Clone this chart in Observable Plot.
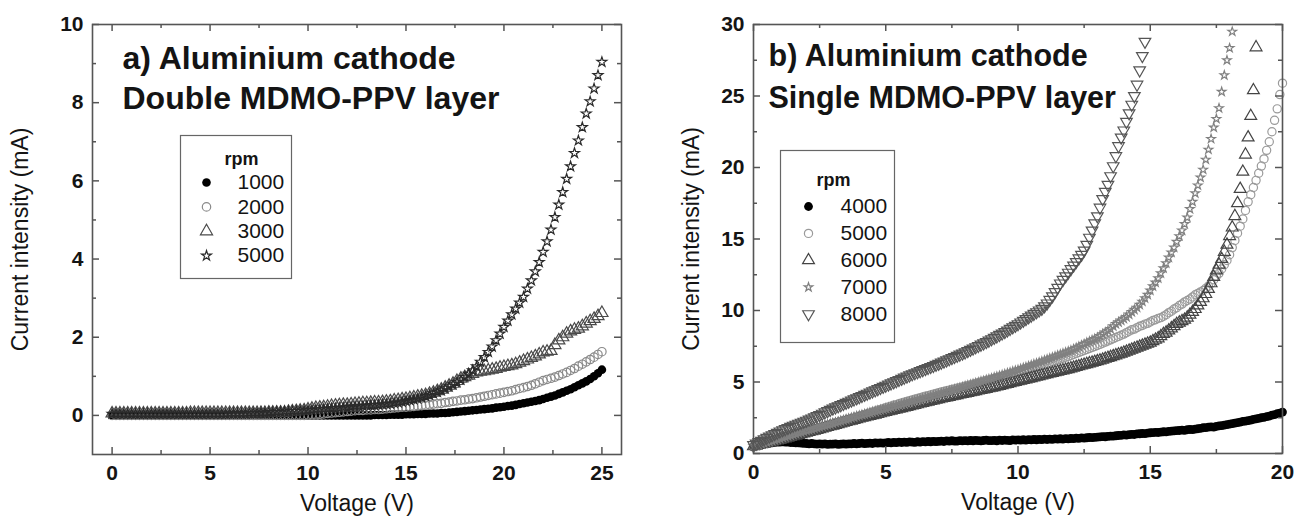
<!DOCTYPE html>
<html><head><meta charset="utf-8">
<script src="https://cdn.jsdelivr.net/npm/d3@7"></script>
<script src="https://cdn.jsdelivr.net/npm/@observablehq/plot@0.6"></script>
<style>
body{margin:0;background:#fff;}
#wrap{display:flex;width:1294px;height:521px;overflow:hidden;}
</style></head><body><div id="wrap"></div>
<script>
// ---------- Panel a: voltage sweep 0..25 V, 0.2 V steps ----------
const voltsA = d3.range(126).map(i => +(i * 0.2).toFixed(1));
const rpmA = ["1000", "2000", "3000", "5000"];
const currentA1000 = [
0,0,0,0,0,0,0,0,0,0, 0,0,0,0,0,0,0,0,0,0, 0,0,0,0,0,0,0,0,0,0,
0,0,0,0,0,0,0,0,0,0, 0,0,0,0,0,0,0,0,0,0, 0,0,0,0,0,0,0,0,0,0, 0,0,0,0,0,
0.00,0.00,0.01,0.01,0.01,0.01,0.02,0.02,0.02,0.02,
0.03,0.03,0.03,0.04,0.04,0.04,0.05,0.05,0.05,0.06,
0.06,0.07,0.08,0.09,0.10,0.11,0.12,0.13,0.14,0.15,
0.16,0.17,0.18,0.20,0.21,0.22,0.24,0.25,0.27,0.29,
0.31,0.33,0.35,0.37,0.39,0.42,0.45,0.48,0.51,0.55,
0.59,0.63,0.67,0.72,0.77,0.82,0.87,0.93,1.00,1.08,
1.17];
const currentA2000 = [
0,0,0,0,0,0,0,0,0,0, 0,0,0,0,0,0,0,0,0,0, 0,0,0,0,0,0,0,0,0,0,
0,0,0,0,0,0,0,0,0,0, 0,0,0,0,0,0,0,0,0,0,
0.01,0.02,0.02,0.03,0.04,0.05,0.06,0.07,0.08,0.09,
0.10,0.11,0.12,0.13,0.13,0.14,0.14,0.15,0.15,0.16,
0.17,0.18,0.19,0.20,0.21,0.21,0.22,0.23,0.24,0.25,
0.26,0.27,0.29,0.30,0.31,0.33,0.34,0.36,0.37,0.39,
0.40,0.42,0.43,0.45,0.47,0.49,0.51,0.53,0.55,0.57,
0.59,0.61,0.63,0.66,0.69,0.71,0.74,0.77,0.81,0.85,
0.89,0.92,0.95,0.98,1.02,1.06,1.10,1.15,1.20,1.26,
1.31,1.37,1.43,1.49,1.56,1.63];
const currentA3000 = [
0.05,0.05,0.05,0.05,0.05,0.05,0.05,0.05,0.05,0.05,
0.05,0.05,0.05,0.05,0.05,0.05,0.05,0.05,0.05,0.05,
0.06,0.06,0.06,0.06,0.06,0.06,0.06,0.06,0.06,0.06,
0.06,0.06,0.06,0.06,0.06,0.06,0.06,0.06,0.06,0.06,
0.07,0.07,0.07,0.07,0.07,
0.09,0.10,0.11,0.12,0.13,
0.15,0.17,0.19,0.20,0.21,0.22,0.24,0.25,0.26,0.27,
0.27,0.28,0.29,0.30,0.31,0.31,0.32,0.33,0.33,0.34,
0.35,0.36,0.38,0.39,0.41,0.42,0.44,0.46,0.48,0.50,
0.52,0.55,0.58,0.62,0.66,0.71,0.76,0.81,0.88,0.94,
0.98,1.02,1.06,1.10,1.12,1.13,1.15,1.17,1.19,1.22,
1.24,1.26,1.28,1.31,1.35,1.39,1.43,1.47,1.51,1.56,
1.61,1.63,1.65,1.80,1.92,2.00,2.09,2.15,2.19,2.22,
2.28,2.35,2.41,2.47,2.54,2.62];
const currentA5000 = [
0.04,0.04,0.04,0.04,0.04,0.04,0.04,0.04,0.04,0.04,
0.04,0.04,0.04,0.04,0.04,0.04,0.04,0.04,0.04,0.04,
0.04,0.04,0.04,0.04,0.04,0.04,0.04,0.04,0.04,0.04,
0.05,0.05,0.05,0.05,0.05,0.06,0.06,0.06,0.07,0.07,
0.08,0.08,0.09,0.09,0.10, 0.10,0.11,0.11,0.12,0.12,
0.13,0.14,0.15,0.15,0.16, 0.17,0.18,0.18,0.19,0.20,
0.21,0.22,0.23,0.23,0.24, 0.25,0.26,0.26,0.27,0.28,
0.29,0.30,0.32,0.33,0.35, 0.37,0.39,0.41,0.43,0.46,
0.49,0.52,0.56,0.60,0.64, 0.69,0.74,0.79,0.85,0.91,
0.98,1.06,1.15,1.25,1.37, 1.49,1.62,1.76,1.92,2.09,
2.26,2.42,2.58,2.73,2.88, 3.03,3.24,3.45,3.68,3.92,
4.18,4.45,4.75,5.07,5.39, 5.71,6.05,6.37,6.71,7.03,
7.37,7.72,8.03,8.36,8.70, 9.04];

// ---------- Panel b: voltage sweep 0..20 V, 0.1 V steps ----------
const voltsB = d3.range(201).map(i => +(i * 0.1).toFixed(1));
const rpmB = ["4000", "5000", "6000", "7000", "8000"];
const currentB4000 = [
0.45,0.52,0.58,0.63,0.66,0.70,0.73,0.75,0.78,0.80,
0.80,0.82,0.79,0.80,0.77,0.76,0.74,0.75,0.72,0.71,
0.70,0.68,0.70,0.67,0.66,0.68,0.65,0.67,0.64,0.66,
0.65,0.67,0.64,0.66,0.68,0.65,0.68,0.67,0.70,0.68,
0.70,0.72,0.69,0.71,0.73,0.70,0.74,0.72,0.75,0.73,
0.75,0.77,0.74,0.78,0.76,0.79,0.77,0.80,0.78,0.81,
0.80,0.78,0.82,0.80,0.83,0.81,0.84,0.82,0.85,0.83,
0.85,0.87,0.84,0.88,0.86,0.89,0.87,0.86,0.90,0.88,
0.90,0.88,0.91,0.89,0.92,0.90,0.88,0.91,0.93,0.90,
0.90,0.92,0.89,0.93,0.91,0.94,0.92,0.90,0.95,0.93,
0.95,0.93,0.96,0.94,0.97,0.95,0.98,0.96,0.99,0.97,
1.00,0.98,1.01,0.99,1.02,1.00,1.03,1.01,1.04,1.02,
1.05,1.04,1.07,1.06,1.09,1.08,1.10,1.12,1.11,1.13,
1.15,1.16,1.18,1.17,1.20,1.22,1.21,1.24,1.26,1.27,
1.30,1.29,1.32,1.34,1.33,1.37,1.38,1.40,1.39,1.42,
1.45,1.46,1.48,1.47,1.50,1.52,1.51,1.55,1.56,1.58,
1.60,1.61,1.63,1.62,1.66,1.68,1.67,1.71,1.73,1.76,
1.80,1.81,1.84,1.86,1.85,1.90,1.93,1.95,1.98,2.02,
2.06,2.09,2.13,2.16,2.20,2.24,2.27,2.30,2.34,2.38,
2.42,2.46,2.50,2.53,2.58,2.62,2.68,2.72,2.78,2.83,
2.90];
const currentB5000 = [
0.50,0.55,0.60,0.65,0.70,0.75,0.80,0.85,0.90,0.95,
1.00,1.05,1.10,1.15,1.20,1.25,1.30,1.35,1.40,1.45,
1.50,1.55,1.61,1.66,1.72,1.77,1.83,1.88,1.94,1.99,
2.05,2.10,2.16,2.21,2.27,2.32,2.38,2.43,2.49,2.54,
2.60,2.66,2.72,2.78,2.84,2.90,2.96,3.02,3.08,3.14,
3.20,3.26,3.31,3.37,3.42,3.48,3.53,3.59,3.64,3.70,
3.75,3.80,3.85,3.90,3.95,4.00,4.05,4.10,4.15,4.20,
4.25,4.30,4.34,4.39,4.43,4.48,4.52,4.57,4.61,4.66,
4.70,4.75,4.80,4.85,4.90,4.95,5.00,5.05,5.10,5.15,
5.20,5.25,5.30,5.35,5.40,5.45,5.50,5.55,5.60,5.65,
5.70,5.75,5.81,5.86,5.92,5.97,6.03,6.08,6.14,6.19,
6.25,6.31,6.37,6.43,6.49,6.55,6.61,6.67,6.73,6.79,
6.85,6.92,6.99,7.06,7.13,7.20,7.27,7.34,7.41,7.48,
7.55,7.63,7.71,7.79,7.87,7.95,8.03,8.11,8.19,8.27,
8.35,8.45,8.55,8.65,8.70,8.80,8.90,8.95,9.05,9.10,
9.20,9.30,9.35,9.45,9.50,9.60,9.70,9.85,9.95,10.10,
10.20,10.35,10.45,10.60,10.70,10.80,10.95,11.10,11.20,11.30,
11.40,11.55,11.70,11.90,12.15,12.40,12.60,12.90,13.20,13.50,
13.90,14.40,14.90,15.40,15.90,16.40,17.00,17.60,18.10,18.60,
19.10,19.60,20.10,20.60,21.20,21.80,22.50,23.30,24.10,25.10,
25.90];
const currentB6000 = [
0.50,0.55,0.59,0.64,0.68,0.73,0.77,0.82,0.86,0.91,
0.95,1.00,1.05,1.10,1.15,1.20,1.25,1.30,1.35,1.40,
1.45,1.50,1.55,1.60,1.65,1.70,1.75,1.80,1.85,1.90,
1.95,2.00,2.05,2.10,2.15,2.20,2.25,2.30,2.35,2.40,
2.45,2.50,2.54,2.59,2.63,2.68,2.72,2.77,2.81,2.86,
2.90,2.95,2.99,3.04,3.08,3.13,3.17,3.22,3.26,3.31,
3.35,3.40,3.44,3.49,3.53,3.58,3.62,3.67,3.71,3.76,
3.80,3.84,3.88,3.92,3.96,4.00,4.04,4.08,4.12,4.16,
4.20,4.24,4.28,4.32,4.36,4.40,4.44,4.48,4.52,4.56,
4.60,4.64,4.69,4.73,4.78,4.82,4.87,4.91,4.96,5.00,
5.05,5.09,5.14,5.18,5.23,5.27,5.32,5.36,5.41,5.45,
5.50,5.54,5.59,5.63,5.68,5.72,5.77,5.81,5.86,5.90,
5.95,6.00,6.05,6.10,6.15,6.20,6.25,6.30,6.35,6.40,
6.45,6.50,6.56,6.62,6.68,6.74,6.80,6.86,6.92,6.98,
7.05,7.12,7.19,7.26,7.33,7.40,7.47,7.54,7.61,7.68,
7.75,7.85,7.95,8.05,8.20,8.35,8.45,8.60,8.75,8.90,
9.05,9.15,9.25,9.35,9.50,9.70,9.90,10.10,10.35,10.60,
10.85,11.15,11.50,11.90,12.35,12.80,13.20,13.60,14.10,14.60,
15.20,15.80,16.60,17.50,18.50,19.70,20.90,22.10,23.60,25.40,
28.40];
const currentB7000 = [
0.50,0.56,0.61,0.67,0.72,0.78,0.83,0.89,0.94,1.00,
1.05,1.11,1.16,1.22,1.27,1.33,1.38,1.44,1.49,1.55,
1.60,1.65,1.70,1.75,1.80,1.85,1.90,1.95,2.00,2.05,
2.10,2.16,2.21,2.27,2.32,2.38,2.43,2.49,2.54,2.60,
2.65,2.70,2.75,2.80,2.85,2.90,2.95,3.00,3.05,3.10,
3.15,3.20,3.25,3.30,3.35,3.40,3.45,3.50,3.55,3.60,
3.65,3.70,3.75,3.80,3.85,3.90,3.95,4.00,4.05,4.10,
4.15,4.20,4.26,4.31,4.37,4.42,4.48,4.53,4.59,4.64,
4.70,4.75,4.81,4.86,4.92,4.97,5.03,5.08,5.14,5.19,
5.25,5.31,5.37,5.43,5.49,5.55,5.61,5.67,5.73,5.79,
5.85,5.91,5.98,6.04,6.11,6.17,6.24,6.30,6.37,6.43,
6.50,6.57,6.64,6.71,6.78,6.85,6.92,6.99,7.06,7.13,
7.20,7.29,7.38,7.47,7.56,7.65,7.74,7.83,7.92,8.01,
8.10,8.22,8.34,8.46,8.58,8.70,8.90,9.05,9.18,9.30,
9.42,9.55,9.72,9.90,10.05,10.20,10.40,10.62,10.85,11.10,
11.40,11.70,11.95,12.25,12.60,12.95,13.30,13.70,14.05,14.40,
14.80,15.20,15.60,16.05,16.50,17.10,17.60,18.20,18.75,19.30,
19.85,20.55,21.25,22.00,22.80,23.40,24.15,25.30,26.45,27.50,
28.35,29.50];
const currentB8000 = [
0.60,0.70,0.80,0.90,1.00,1.10,1.19,1.28,1.37,1.46,
1.55,1.63,1.71,1.79,1.87,1.95,2.02,2.09,2.16,2.23,
2.30,2.38,2.46,2.54,2.62,2.70,2.79,2.88,2.97,3.06,
3.15,3.23,3.31,3.39,3.47,3.55,3.63,3.71,3.79,3.87,
3.95,4.03,4.11,4.19,4.27,4.35,4.43,4.51,4.59,4.67,
4.75,4.83,4.91,4.99,5.07,5.15,5.23,5.31,5.39,5.47,
5.55,5.62,5.69,5.77,5.84,5.91,5.99,6.06,6.13,6.21,
6.28,6.36,6.44,6.52,6.60,6.68,6.76,6.84,6.92,7.00,
7.08,7.17,7.26,7.35,7.44,7.53,7.62,7.71,7.80,7.90,
8.00,8.10,8.20,8.30,8.40,8.50,8.61,8.72,8.83,8.94,
9.05,9.17,9.29,9.41,9.53,9.65,9.77,9.89,10.01,10.13,
10.30,10.50,10.75,11.00,11.30,11.60,11.90,12.15,12.40,12.65,
12.90,13.15,13.40,13.65,13.90,14.20,14.60,15.10,15.60,16.10,
16.60,17.20,17.80,18.30,18.80,19.40,20.10,20.80,21.50,22.10,
22.60,23.20,23.80,24.40,25.00,25.80,26.80,27.80,28.80];

// tick positions
const xMajorA = [0, 5, 10, 15, 20, 25], xMinorA = [2.5, 7.5, 12.5, 17.5, 22.5];
const yMajorA = [0, 2, 4, 6, 8, 10], yMinorA = [1, 3, 5, 7, 9];
const xMajorB = [0, 5, 10, 15, 20], xMinorB = [2.5, 7.5, 12.5, 17.5];
const yMajorB = [0, 5, 10, 15, 20, 25, 30], yMinorB = [2.5, 7.5, 12.5, 17.5, 22.5, 27.5];

// ---------- styling ----------
const sqrt3 = Math.sqrt(3);
const triangleDown = {
  draw(context, size) {
    const y = -Math.sqrt(size / (sqrt3 * 3));
    context.moveTo(0, -y * 2);
    context.lineTo(-sqrt3 * y, y);
    context.lineTo(sqrt3 * y, y);
    context.closePath();
  }
};
const stylesA = {
  "1000": {symbol: "circle", r: 4.3, fill: "#000", stroke: "none"},
  "2000": {symbol: "circle", r: 4.2, fill: "none", stroke: "#8a8a8a", strokeWidth: 1.2},
  "3000": {symbol: "triangle", r: 4.5, fill: "none", stroke: "#4a4a4a", strokeWidth: 1.2},
  "5000": {symbol: "star", r: 3.1, fill: "none", stroke: "#2a2a2a", strokeWidth: 1.2}
};
const stylesB = {
  "4000": {symbol: "circle", r: 4.4, fill: "#000", stroke: "none"},
  "5000": {symbol: "circle", r: 4.1, fill: "none", stroke: "#9a9a9a", strokeWidth: 1.2},
  "6000": {symbol: "triangle", r: 4.4, fill: "none", stroke: "#444", strokeWidth: 1.2},
  "7000": {symbol: "star", r: 2.7, fill: "none", stroke: "#808080", strokeWidth: 1.2},
  "8000": {symbol: triangleDown, r: 4.3, fill: "none", stroke: "#555", strokeWidth: 1.2}
};

const FONT = "'Liberation Sans', Arial, Helvetica, sans-serif";
const INK = "#141414", AX = "#555";

function rows(volts, values) { return values.map((v, i) => ({V: volts[i], I: v})); }

function frameMarks(xMaj, xMin, yMaj, yMin, fw, fh) {
  const o = {stroke: AX, strokeWidth: 1.5};
  const t = (xs, ys, len) => [
    Plot.ruleX(xs, {...o, insetTop: fh - len}),
    Plot.ruleX(xs, {...o, insetBottom: fh - len}),
    Plot.ruleY(ys, {...o, insetRight: fw - len}),
    Plot.ruleY(ys, {...o, insetLeft: fw - len})
  ];
  return [
    ...t(xMaj, yMaj, 7), ...t(xMin, yMin, 4),
    Plot.frame({stroke: AX, strokeWidth: 1.6}),
    Plot.axisX(xMaj, {anchor: "bottom", tickSize: 0, tickPadding: 11, fontSize: 21, fontWeight: "bold", fill: INK, label: null}),
    Plot.axisY(yMaj, {anchor: "left", tickSize: 0, tickPadding: 9, fontSize: 21, fontWeight: "bold", fill: INK, label: null})
  ];
}

function legendMarks(names, styles, box, rpmPos, markX, textX, y0, step) {
  const marks = [
    Plot.frame({...box, stroke: "#666", strokeWidth: 1.2, fill: "white"}),
    Plot.text(["rpm"], {frameAnchor: "top-left", dx: rpmPos[0], dy: rpmPos[1], textAnchor: "middle", lineAnchor: "middle", fontSize: 18, fontWeight: "bold", fill: INK})
  ];
  names.forEach((n, i) => {
    marks.push(Plot.dot([n], {frameAnchor: "top-left", dx: markX, dy: y0 + i * step, ...styles[n]}));
    marks.push(Plot.text([n], {frameAnchor: "top-left", dx: textX, dy: y0 + i * step, textAnchor: "start", lineAnchor: "middle", fontSize: 21, fill: INK}));
  });
  return marks;
}

function titleMarks(lines, dx, dys, size) {
  return lines.map((s, i) => Plot.text([s], {frameAnchor: "top-left", dx, dy: dys[i], textAnchor: "start", lineAnchor: "middle", fontSize: size, fontWeight: "bold", fill: INK}));
}

function labelMarks(xl, yl, ydx) {
  return [
    Plot.text([xl], {frameAnchor: "bottom", dy: 49, textAnchor: "middle", lineAnchor: "middle", fontSize: 23, fill: INK}),
    Plot.text([yl], {frameAnchor: "left", dx: ydx, rotate: -90, textAnchor: "middle", lineAnchor: "middle", fontSize: 23, fill: INK})
  ];
}

const plotStyle = {fontFamily: FONT, background: "white", color: INK, overflow: "visible"};

// ---------- panel a ----------
const seriesA = [currentA1000, currentA2000, currentA3000, currentA5000];
const plotA = Plot.plot({
  width: 660, height: 521,
  marginLeft: 92, marginRight: 39, marginTop: 24, marginBottom: 67,
  x: {domain: [-1, 26]}, y: {domain: [-1, 10]},
  style: plotStyle,
  marks: [
    ...rpmA.map((n, k) => Plot.dot(rows(voltsA, seriesA[k]), {x: "V", y: "I", ...stylesA[n]})),
    ...frameMarks(xMajorA, xMinorA, yMajorA, yMinorA, 529, 430),
    ...titleMarks(["a) Aluminium cathode", "Double MDMO-PPV layer"], 30, [34, 74], 32),
    ...legendMarks(rpmA, stylesA, {insetLeft: 88, insetTop: 111, insetRight: 330, insetBottom: 176}, [149, 135], 114, 145, 158, 24.4),
    ...labelMarks("Voltage (V)", "Current intensity (mA)", -72)
  ]
});

// ---------- panel b ----------
const seriesB = [currentB4000, currentB5000, currentB6000, currentB7000, currentB8000];
const plotB = Plot.plot({
  width: 634, height: 521,
  marginLeft: 93, marginRight: 12, marginTop: 24, marginBottom: 68,
  x: {domain: [0, 20]}, y: {domain: [0, 30]},
  style: plotStyle,
  marks: [
    ...rpmB.map((n, k) => Plot.dot(rows(voltsB, seriesB[k]), {x: "V", y: "I", ...stylesB[n]})),
    ...frameMarks(xMajorB, xMinorB, yMajorB, yMinorB, 529, 429),
    ...titleMarks(["b) Aluminium cathode", "Single MDMO-PPV layer"], 15, [32, 74], 30.5),
    ...legendMarks(rpmB, stylesB, {insetLeft: 27, insetTop: 126, insetRight: 388, insetBottom: 111}, [80, 156], 55, 87, 182, 26.9),
    ...labelMarks("Voltage (V)", "Current intensity (mA)", -62)
  ]
});

document.getElementById("wrap").append(plotA, plotB);
</script></body></html>
